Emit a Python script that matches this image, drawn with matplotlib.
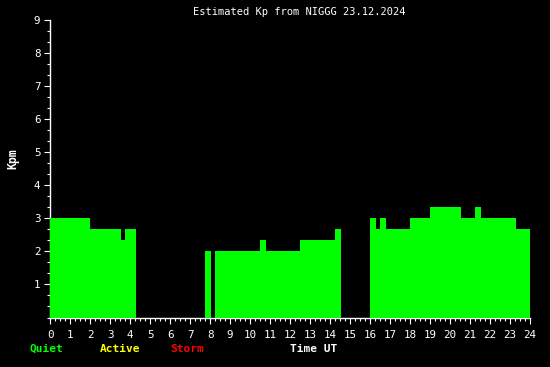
import matplotlib
matplotlib.use("Agg")
import matplotlib.pyplot as plt
from matplotlib.ticker import MultipleLocator

# Segment start times (UT hours), end times and estimated Kp values
seg_start = [0.0, 2.0, 3.55, 3.75, 7.75, 8.25, 10.5, 10.8, 12.5, 14.25,
             16.0, 16.3, 16.5, 16.8, 18.0, 19.0, 20.55, 21.25, 21.55, 23.3]
seg_end = [2.0, 3.55, 3.75, 4.3, 8.05, 10.5, 10.8, 12.5, 14.25, 14.55,
           16.3, 16.5, 16.8, 18.0, 19.0, 20.55, 21.25, 21.55, 23.3, 24.0]
kp_values = [3.0, 2.667, 2.333, 2.667, 2.0, 2.0, 2.333, 2.0, 2.333, 2.667,
             3.0, 2.667, 3.0, 2.667, 3.0, 3.333, 3.0, 3.333, 3.0, 2.667]

x_ticks = list(range(0, 25))
y_ticks = list(range(1, 10))

title = "Estimated Kp from NIGGG 23.12.2024"

fig = plt.figure(figsize=(5.5, 3.67), dpi=100, facecolor="black")
ax = fig.add_axes([50/550, 1-317.5/367, 480/550, 297.5/367], facecolor="black")

widths = [e - s for s, e in zip(seg_start, seg_end)]
ax.bar(seg_start, kp_values, width=widths, align="edge", color="#00ff00",
       linewidth=0, zorder=3)

ax.set_xlim(0, 24)
ax.set_ylim(0, 9)
ax.set_xticks(x_ticks)
ax.set_xticklabels([str(t) for t in x_ticks])
ax.set_yticks(y_ticks)
ax.set_yticklabels([str(t) for t in y_ticks])
ax.xaxis.set_minor_locator(MultipleLocator(0.25))
ax.yaxis.set_minor_locator(MultipleLocator(1/3))

for s in ["top", "right"]:
    ax.spines[s].set_visible(False)
for s in ["left", "bottom"]:
    ax.spines[s].set_color("white")
    ax.spines[s].set_linewidth(1.0)

font = "DejaVu Sans Mono"
ax.tick_params(axis="both", which="major", colors="white", length=4, width=0.8,
               labelsize=7.8, direction="out")
ax.tick_params(axis="both", which="minor", colors="white", length=2.2, width=0.8,
               direction="out")
ax.tick_params(axis="x", which="major", pad=5)
ax.tick_params(axis="y", which="major", pad=3)
for lab in ax.get_xticklabels() + ax.get_yticklabels():
    lab.set_fontfamily(font)

fig.text(299/550, 1-12/367, title, color="white", fontsize=7.5, family=font,
         ha="center", va="center")
fig.text(13/550, 1-159/367, "Kpm", color="white", fontsize=8.3, family=font,
         fontweight="bold", rotation=90, ha="center", va="center")

legend_y = 1-349/367
fig.text(30/550, legend_y, "Quiet", color="#00ff00", fontsize=8, family=font,
         fontweight="bold", ha="left", va="center")
fig.text(100/550, legend_y, "Active", color="#ffff00", fontsize=8, family=font,
         fontweight="bold", ha="left", va="center")
fig.text(170/550, legend_y, "Storm", color="#ff0000", fontsize=8, family=font,
         fontweight="bold", ha="left", va="center")
fig.text(290/550, legend_y, "Time UT", color="white", fontsize=8, family=font,
         fontweight="bold", ha="left", va="center")

fig.savefig("out.png", dpi=100, facecolor="black")
